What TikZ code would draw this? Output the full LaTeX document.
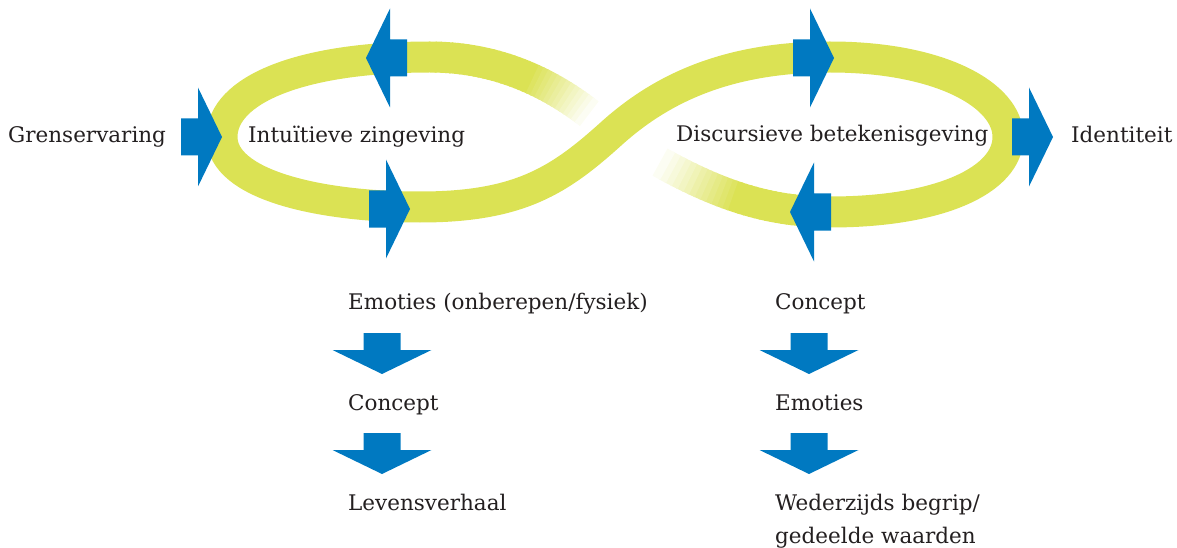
\documentclass[tikz,border=0pt]{standalone}
\usepackage{fontspec}
\setmainfont{DejaVu Serif}
\definecolor{geel}{RGB}{219,226,84}
\definecolor{blauw}{RGB}{0,121,193}
\definecolor{tekst}{RGB}{35,31,32}
\tikzset{
	lus/.style={line width=31pt,line cap=butt,draw=geel},
	tekstje/.style={anchor=base west,inner sep=0pt,text=tekst,font=\fontsize{21.5}{33}\selectfont},
	blokpijl/.pic={
		\fill[blauw] (0,-18.5) -- (17,-18.5) -- (17,-49.5) -- (41,0) -- (17,49.5) -- (17,18.5) -- (0,18.5) -- cycle;
	}
}
\begin{document}
\begin{tikzpicture}[x=1pt,y=-1pt]
	\useasboundingbox (0,0) rectangle (1177,548);
	% punten van de lus
	\coordinate (T1) at (430,57);
	\coordinate (L) at (222,137);
	\coordinate (B1) at (420,207);
	\coordinate (K) at (612,133);
	\coordinate (T2) at (830,57);
	\coordinate (R) at (1008,137);
	\coordinate (B2) at (830,212);
	% stukken onder de kruising, vervagend naar wit
	\foreach \i in {0,...,33}{
		\pgfmathsetmacro\ta{\i/40}
		\pgfmathsetmacro\tb{(\i+1.3)/40}
		\pgfmathtruncatemacro\mix{\i<20 ? 100 : 100-(\i-20)*100/14}
		\path (T1) .. controls (500,57) and (560,85) .. (K) coordinate[pos=\ta] (s) coordinate[pos=\tb] (e);
		\draw[lus,draw=geel!\mix!white] (s) -- (e);
	}
	\foreach \i in {0,...,31}{
		\pgfmathsetmacro\ta{\i/40}
		\pgfmathsetmacro\tb{(\i+1.3)/40}
		\pgfmathtruncatemacro\mix{\i<18 ? 100 : 100-(\i-18)*100/14}
		\path (B2) .. controls (760,212) and (700,190) .. (K) coordinate[pos=\ta] (s) coordinate[pos=\tb] (e);
		\draw[lus,draw=geel!\mix!white] (s) -- (e);
	}
	% de lus zelf
	\draw[lus] (T1) .. controls (300,57) and (222,90) .. (L)
		.. controls (222,185) and (320,207) .. (B1)
		.. controls (520,207) and (560,180) .. (K)
		.. controls (660,90) and (725,57) .. (T2)
		.. controls (940,57) and (1008,95) .. (R)
		.. controls (1008,180) and (940,212) .. (B2);
	% teksten
	\node[tekstje] (grens) at (8,143) {Grenservaring};
	\node[tekstje] (intu) at (248,143) {Intuïtieve zingeving};
	\node[tekstje] (disc) at (676,142) {Discursieve betekenisgeving};
	\node[tekstje] (ident) at (1071,143) {Identiteit};
	\node[tekstje] (emo1) at (348,309) {Emoties (onberepen/fysiek)};
	\node[tekstje] (con1) at (348,410) {Concept};
	\node[tekstje] (lev) at (348,510) {Levensverhaal};
	\node[tekstje] (con2) at (775,309) {Concept};
	\node[tekstje] (emo2) at (775,410) {Emoties};
	\node[tekstje,align=left] (wed) at (775,543) {Wederzijds begrip/\\gedeelde waarden};
	% blauwe pijlen
	\pic at (181,137) {blokpijl};
	\pic[rotate=180] at (407,58) {blokpijl};
	\pic at (369,209) {blokpijl};
	\pic at (793,58) {blokpijl};
	\pic[rotate=180] at (831,212) {blokpijl};
	\pic at (1012,137) {blokpijl};
	\foreach \x in {382,809}
		\foreach \y in {333,433}
			\pic[rotate=-90] at (\x,\y) {blokpijl};
\end{tikzpicture}
\end{document}
